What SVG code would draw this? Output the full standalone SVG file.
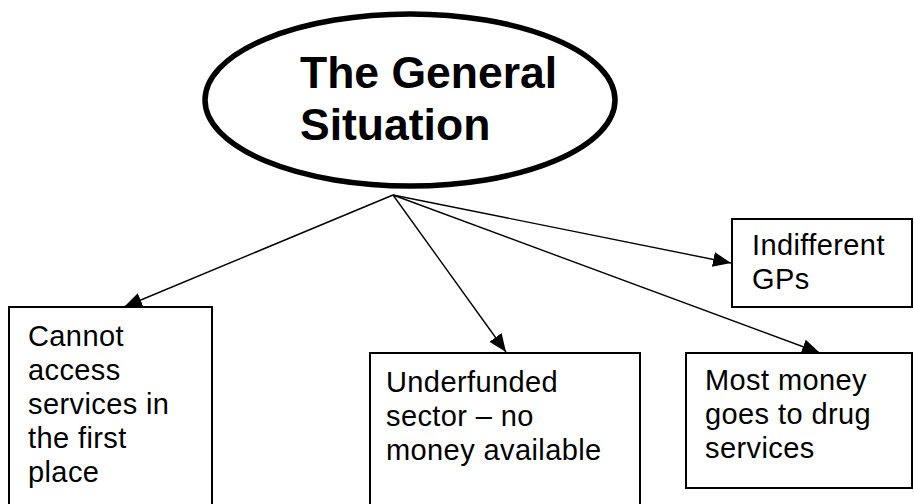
<svg xmlns="http://www.w3.org/2000/svg" width="914" height="504" viewBox="0 0 914 504">
<defs>
<style>
.box{fill:#fff;stroke:#000;stroke-width:2}
.t{font-family:"Liberation Sans",Arial,sans-serif;font-size:29px;letter-spacing:0.4px;fill:#000}
.title{font-family:"Liberation Sans",Arial,sans-serif;font-size:44.5px;font-weight:bold;fill:#000}
.conn line{stroke:#000;stroke-width:1.4}
</style>
<marker id="ah" markerUnits="userSpaceOnUse" markerWidth="20" markerHeight="16" refX="18" refY="7.5" orient="auto">
<path d="M0,0 L18,7.5 L0,15 Z" fill="#000"/>
</marker>
</defs>
<rect width="914" height="504" fill="#fff"/>
<g id="center">
<ellipse cx="410" cy="100" rx="205" ry="86" fill="#fff" stroke="#000" stroke-width="5.5"/>
<text class="title" x="300" y="88">The General</text>
<text class="title" x="300" y="140">Situation</text>
</g>
<g id="n-cannot">
<rect class="box" x="9" y="307" width="203" height="210"/>
<text class="t" x="28" y="346">Cannot</text>
<text class="t" x="28" y="380">access</text>
<text class="t" x="28" y="414">services in</text>
<text class="t" x="28" y="448">the first</text>
<text class="t" x="28" y="482">place</text>
</g>
<g id="n-underfunded">
<rect class="box" x="370" y="353" width="270" height="160"/>
<text class="t" x="386" y="392">Underfunded</text>
<text class="t" x="386" y="426">sector – no</text>
<text class="t" x="386" y="460">money available</text>
</g>
<g id="n-indifferent">
<rect class="box" x="732" y="219" width="180" height="88"/>
<text class="t" x="752" y="255">Indifferent</text>
<text class="t" x="752" y="289">GPs</text>
</g>
<g id="n-most">
<rect class="box" x="686" y="353" width="226" height="135"/>
<text class="t" x="705" y="390">Most money</text>
<text class="t" x="705" y="424">goes to drug</text>
<text class="t" x="705" y="458">services</text>
</g>
<g id="connectors" class="conn">
<line x1="393" y1="195" x2="124" y2="307" marker-end="url(#ah)"/>
<line x1="393" y1="195" x2="506" y2="352" marker-end="url(#ah)"/>
<line x1="393" y1="195" x2="731" y2="263" marker-end="url(#ah)"/>
<line x1="393" y1="195" x2="820" y2="353" marker-end="url(#ah)"/>
</g>
</svg>
